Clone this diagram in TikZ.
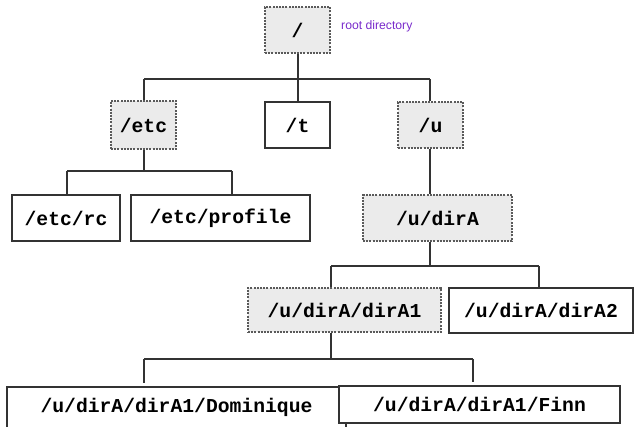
\documentclass[tikz,border=0pt]{standalone}
\usepackage{fontspec}
\setmainfont{Liberation Sans}
\setmonofont{Liberation Mono}
\definecolor{boxgrey}{HTML}{EBEBEB}
\definecolor{linegrey}{HTML}{333333}
\definecolor{dashgrey}{HTML}{5A5A5A}
\definecolor{rootpurple}{HTML}{7A2CCC}
\tikzset{
  conn/.style={draw=linegrey, line width=1.4pt},
  dirbox/.style={rectangle, inner sep=0pt, font=\fontsize{19.7}{22}\selectfont\ttfamily\bfseries, text=black},
  whitebox/.style={dirbox, draw=linegrey, fill=white, line width=1.3pt},
  greybox/.style={dirbox, draw=dashgrey, fill=boxgrey, line width=1.1pt, dash pattern=on 2pt off 1.2pt},
}
\begin{document}
\begin{tikzpicture}[x=1pt,y=-1pt]
\useasboundingbox (0,0) rectangle (636,426);
\fill[white] (0,0) rectangle (636,426);
% nodes
\node[greybox, minimum width=65pt, minimum height=46pt] (root) at (297.5,30) {/};
\node[font=\fontsize{12.2}{14}\selectfont, text=rootpurple, anchor=west, inner sep=0pt] (rootlbl) at (341,26) {root directory};
\node[greybox, minimum width=65pt, minimum height=48pt] (etc) at (143.5,125) {/etc};
\node[whitebox, minimum width=65pt, minimum height=46pt] (t) at (297.5,125) {/t};
\node[greybox, minimum width=65pt, minimum height=46pt] (u) at (430.5,125) {/u};
\node[whitebox, minimum width=108pt, minimum height=46pt] (etcrc) at (66,218) {/etc/rc};
\node[whitebox, minimum width=179pt, minimum height=46pt] (etcprofile) at (220.5,218) {/etc/profile};
\node[greybox, minimum width=149pt, minimum height=46pt] (dirA) at (437.5,218) {/u/dirA};
\node[greybox, minimum width=193pt, minimum height=44pt] (dirA1) at (344.5,310) {/u/dirA/dirA1};
\node[whitebox, minimum width=184pt, minimum height=45pt] (dirA2) at (541,310.5) {/u/dirA/dirA2};
\node[whitebox, minimum width=339pt, minimum height=41pt] (dom) at (176.5,407.5) {/u/dirA/dirA1/Dominique};
\node[whitebox, minimum width=281pt, minimum height=37pt] (finn) at (479.5,404.5) {/u/dirA/dirA1/Finn};
% junction coordinates
\coordinate (r0) at (298,79);
\coordinate (r1) at (144,79);
\coordinate (r2) at (430,79);
\coordinate (e1) at (67,171);
\coordinate (e2) at (232,171);
\coordinate (a1) at (331,266);
\coordinate (a2) at (539,266);
\coordinate (d1) at (144,359);
\coordinate (d2) at (473,359);
\coordinate (d1e) at (144,383);
\coordinate (d2e) at (473,382);
% connectors
\draw[conn] (root.south -| r0) -- (r0);
\draw[conn] (r1) -- (r2);
\draw[conn] (r1) -- (r1 |- etc.north);
\draw[conn] (r0) -- (t.north -| r0);
\draw[conn] (r2) -- (u.north -| r2);
\draw[conn] (etc.south -| r1) -- (e1 -| r1);
\draw[conn] (e1) -- (e2);
\draw[conn] (e1) -- (e1 |- etcrc.north);
\draw[conn] (e2) -- (e2 |- etcprofile.north);
\draw[conn] (u.south -| r2) -- (dirA.north -| r2);
\draw[conn] (dirA.south -| r2) -- (a1 -| r2);
\draw[conn] (a1) -- (a2);
\draw[conn] (a1) -- (a1 |- dirA1.north);
\draw[conn] (a2) -- (a2 |- dirA2.north);
\draw[conn] (a1 |- dirA1.south) -- (a1 |- d1);
\draw[conn] (d1) -- (d2);
\draw[conn] (d1) -- (d1e);
\draw[conn] (d2) -- (d2e);
\end{tikzpicture}
\end{document}
